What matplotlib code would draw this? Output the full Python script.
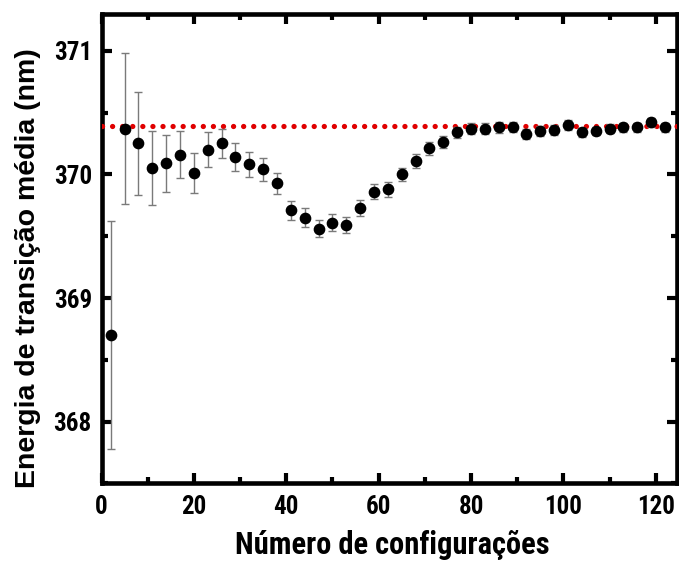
import matplotlib
matplotlib.use("Agg")
import matplotlib.pyplot as plt
from matplotlib.ticker import MultipleLocator
from matplotlib.font_manager import FontProperties

# data
n_config = list(range(2, 123, 3))
energia = [368.70, 370.37, 370.25, 370.05, 370.09, 370.16, 370.01, 370.20, 370.25, 370.14,
           370.08, 370.04, 369.93, 369.71, 369.65, 369.56, 369.61, 369.59, 369.73, 369.86,
           369.88, 370.00, 370.11, 370.21, 370.26, 370.34, 370.37, 370.37, 370.38, 370.38,
           370.33, 370.35, 370.36, 370.40, 370.34, 370.35, 370.37, 370.38, 370.38, 370.42,
           370.38]
erro = [0.92, 0.61, 0.42, 0.30, 0.23, 0.19, 0.16, 0.14, 0.12, 0.11,
        0.10, 0.09, 0.085, 0.075, 0.075, 0.07, 0.07, 0.065, 0.065, 0.06,
        0.06, 0.055, 0.055, 0.05, 0.05, 0.045, 0.045, 0.045, 0.045, 0.04,
        0.04, 0.04, 0.04, 0.04, 0.035, 0.035, 0.035, 0.035, 0.035, 0.035,
        0.035]
referencia = 370.39
xlabel = "Número de configurações"
ylabel = "Energia de transição média (nm)"

plt.rcParams['font.family'] = ['Roboto Condensed', 'Liberation Sans', 'DejaVu Sans']
plt.rcParams['font.weight'] = 'bold'

fig = plt.figure(figsize=(6.79, 5.67), dpi=100)
ax = fig.add_axes([0.1495, 0.1473, 0.8476, 0.828])

ax.axhline(referencia, color='#e00000', linestyle=(0, (0.01, 1.9)), linewidth=3.8,
           dash_capstyle='round', zorder=3)
ax.errorbar(n_config, energia, yerr=erro, fmt='o', color='black', markersize=7.4,
            ecolor='#7a7a7a', elinewidth=1.0, capsize=3.2, capthick=1.0, zorder=4)

ax.set_xlim(0, 124.6)
ax.set_ylim(367.50, 371.297)
ax.xaxis.set_major_locator(MultipleLocator(20))
ax.xaxis.set_minor_locator(MultipleLocator(10))
ax.yaxis.set_major_locator(MultipleLocator(1))
ax.yaxis.set_minor_locator(MultipleLocator(0.5))

for s in ax.spines.values():
    s.set_linewidth(3.3)
ax.tick_params(which='both', direction='in', top=True, right=True, width=3.0)
ax.tick_params(which='major', length=7.5, labelsize=18)
ax.tick_params(axis='x', which='major', pad=8)
ax.tick_params(axis='y', which='major', pad=7)
ax.tick_params(which='minor', length=4)
for lab in ax.get_xticklabels() + ax.get_yticklabels():
    lab.set_fontweight('bold')

ax.set_xlabel(xlabel, fontsize=22, fontweight='bold')
yfp = FontProperties(family=['Liberation Sans', 'DejaVu Sans'], weight='bold', size=20.5)
ax.set_ylabel(ylabel, fontproperties=yfp)
ax.xaxis.set_label_coords(0.505, -0.099)
ax.yaxis.set_label_coords(-0.105, 0.458)

fig.savefig("out.png", dpi=100)
